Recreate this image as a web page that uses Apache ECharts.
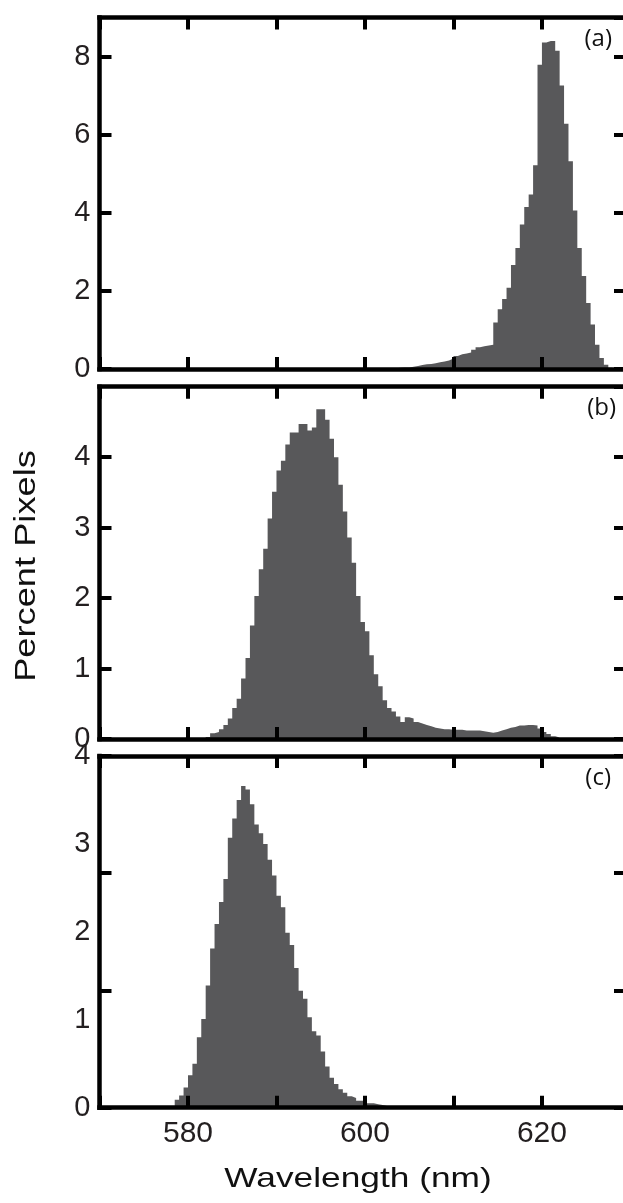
<!DOCTYPE html>
<html><head><meta charset="utf-8">
<script src="https://cdn.jsdelivr.net/npm/echarts@6/dist/echarts.min.js"></script>
<style>html,body{margin:0;padding:0;background:#fff}#c{width:623px;height:1203px}</style>
</head><body><div id="c"></div>
<script>
// ---- data (histogram bins, 0.5 nm wide; value = percent of pixels) ----
const binWidth = 0.5;
const startA = 602.5;
const valuesA = [0.01,0.02,0.03,0.04,0.04,0.06,0.08,0.10,0.12,0.13,0.15,0.17,0.19,0.22,0.27,
  0.33,0.38,0.40,0.42,0.49,0.56,0.58,0.60,0.62,1.19,1.53,1.79,2.08,2.66,3.10,3.70,4.15,4.47,5.22,
  7.79,8.36,8.40,8.40,8.15,7.26,6.28,5.32,4.06,3.10,2.38,1.69,1.14,0.62,0.28,0.11,0.03];
const startB = 582.0;
const valuesB = [0.03,0.08,0.10,0.14,0.20,0.29,0.44,0.57,0.86,1.15,1.61,2.03,2.41,2.70,3.13,3.51,
  3.81,3.95,4.18,4.35,4.35,4.47,4.47,4.38,4.42,4.68,4.68,4.53,4.26,4.00,3.61,3.23,2.86,2.50,2.03,
  1.66,1.53,1.19,0.92,0.75,0.55,0.44,0.39,0.32,0.24,0.31,0.29,0.24,0.22,0.20,0.18,0.16,0.15,0.14,
  0.14,0.13,0.13,0.13,0.12,0.12,0.12,0.12,0.11,0.10,0.09,0.10,0.12,0.14,0.16,0.17,0.19,0.19,0.20,
  0.20,0.19,0.15,0.10,0.07,0.04,0.02];
const startC = 578.5;
const valuesC = [0.09,0.14,0.23,0.37,0.50,0.80,1.01,1.39,1.81,2.09,2.34,2.60,3.07,3.29,3.50,3.66,
  3.62,3.45,3.22,3.12,3.00,2.82,2.64,2.41,2.28,1.99,1.85,1.59,1.33,1.24,1.03,0.87,0.82,0.64,0.47,
  0.34,0.27,0.21,0.17,0.13,0.11,0.08,0.08,0.05,0.05,0.04,0.03,0.02];
const xTickLabels = [580, 600, 620];
const panelNames = ['(a)', '(b)', '(c)'];
const yMax = [9, 5, 4];
const yInterval = [2, 1, 1];

// ---- chart ----
const BLACK = '#000';
const TXT = '#231f20';
const BAR = '#58585a';
const gridBase = {left: 99.5, width: 526.5, containLabel: false, outerBoundsMode: 'none'};
const grids = [
  Object.assign({top: 17.5, height: 351.5}, gridBase),
  Object.assign({top: 386.7, height: 352.3}, gridBase),
  Object.assign({top: 756, height: 351.7}, gridBase)
];
function lineSt() { return {show: true, onZero: false, lineStyle: {color: BLACK, width: 4.5, cap: 'square'}}; }
function tickSt() { return {show: true, inside: true, length: 12, lineStyle: {color: BLACK, width: 4}}; }

function stepData(start, vals) {
  const d = vals.map((v, i) => [start + i * binWidth, v]);
  d.push([start + vals.length * binWidth, 0]);
  return d;
}

const xAxis = [], yAxis = [], series = [];
const starts = [startA, startB, startC];
const vals = [valuesA, valuesB, valuesC];
for (let g = 0; g < 3; g++) {
  const mk = () => ({type: 'value', gridIndex: g, min: 570, max: 629.5, interval: 10, z: 5,
    axisLine: lineSt(), axisTick: tickSt(), splitLine: {show: false}});
  xAxis.push(Object.assign(mk(), {position: 'bottom',
    axisLabel: {show: g === 2, fontSize: 30, fontFamily: 'Liberation Sans', color: TXT, margin: 11,
      formatter: v => xTickLabels.includes(v) ? String(v) : ''}}));
  xAxis.push(Object.assign(mk(), {position: 'top', axisLabel: {show: false}}));
}
// panel a & b: left (labels) + right
for (let g = 0; g < 2; g++) {
  const mk = () => ({type: 'value', gridIndex: g, min: 0, max: yMax[g], interval: yInterval[g], z: 5,
    axisLine: lineSt(), axisTick: tickSt(), splitLine: {show: false}});
  yAxis.push(Object.assign(mk(), {position: 'left',
    axisLabel: {show: true, fontSize: 29, fontFamily: 'Liberation Sans', color: TXT, margin: 9, showMaxLabel: false}}));
  yAxis.push(Object.assign(mk(), {position: 'right', axisLabel: {show: false}}));
}
// panel c: frame/tick axes (ticks split the height in three), plus a label axis 0..4
const mkC = () => ({type: 'value', gridIndex: 2, min: 0, max: 3, interval: 1, z: 5,
  axisLine: lineSt(), axisTick: tickSt(), splitLine: {show: false}, axisLabel: {show: false}});
yAxis.push(Object.assign(mkC(), {position: 'left'}));   // 4
yAxis.push(Object.assign(mkC(), {position: 'right'}));  // 5
yAxis.push({type: 'value', gridIndex: 2, min: 0, max: yMax[2], interval: yInterval[2], position: 'left', z: 5,
  axisLine: {show: false, onZero: false}, axisTick: {show: false}, splitLine: {show: false},
  axisLabel: {show: true, fontSize: 29, fontFamily: 'Liberation Sans', color: TXT, margin: 9}}); // 6

const yIdx = [0, 2, 6];
for (let g = 0; g < 3; g++) {
  series.push({type: 'line', xAxisIndex: 2 * g, yAxisIndex: yIdx[g], step: 'end',
    data: stepData(starts[g], vals[g]), symbol: 'none', showSymbol: false, silent: true, z: 1,
    lineStyle: {width: 0, color: BAR}, areaStyle: {color: BAR, opacity: 1}});
}

const panelPos = [[612, 39], [616, 408], [611, 778]];
const graphic = [
  {type: 'text', x: 358, y: 1179, scaleX: 1.26, z: 10,
    style: {text: 'Wavelength (nm)', font: '28px "Liberation Sans"', fill: '#111', textAlign: 'center', verticalAlign: 'middle', textVerticalAlign: 'middle'}},
  {type: 'text', x: 27, y: 566, rotation: Math.PI / 2, scaleX: 1.25, z: 10,
    style: {text: 'Percent Pixels', font: '29px "Liberation Sans"', fill: '#111', textAlign: 'center', verticalAlign: 'middle', textVerticalAlign: 'middle'}}
];
panelNames.forEach((t, i) => graphic.push({type: 'text', x: panelPos[i][0], y: panelPos[i][1], z: 10,
  style: {text: t, font: '24px "Open Sans"', fill: '#111', textAlign: 'right', verticalAlign: 'middle', textVerticalAlign: 'middle'}}));

const chart = echarts.init(document.getElementById('c'), null, {renderer: 'canvas'});
chart.setOption({animation: false, backgroundColor: '#fff', grid: grids, xAxis, yAxis, series, graphic});
</script></body></html>
